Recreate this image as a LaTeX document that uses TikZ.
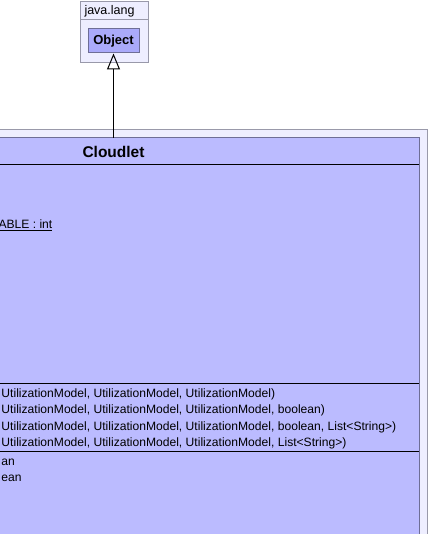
\documentclass[tikz,border=0pt]{standalone}
\usepackage{fontspec}
\setmainfont{Liberation Sans}
\usetikzlibrary{arrows.meta,positioning}

\definecolor{pkgfill}{RGB}{238,238,255}
\definecolor{pkgline}{RGB}{153,153,170}
\definecolor{clsfill}{RGB}{187,187,255}
\definecolor{clsline}{RGB}{110,110,150}
\definecolor{objfill}{RGB}{170,170,250}

\begin{document}
\begin{tikzpicture}[x=1pt,y=-1pt,line width=1pt,
    pkg/.style={draw=pkgline,fill=pkgfill},
    cls/.style={draw=clsline,fill=clsfill},
    member/.style={anchor=west,inner sep=0pt,font=\fontsize{12.1}{14}\selectfont},
    inherit/.style={-{Triangle[open,length=16pt,width=13pt]},fill=white}]

  \useasboundingbox (0,0) rectangle (430,534);

  % java.lang package with Object
  \draw[pkg] (80,2) rectangle (148,62.5);
  \draw[pkgline] (80,20) -- (148,20);
  \node[member,font=\fontsize{12.5}{14}\selectfont] (javalang) at (84,11) {java.lang};
  \node[draw=clsline,fill=objfill,minimum width=51pt,minimum height=24pt,
        inner sep=0pt,font=\bfseries\fontsize{13}{15}\selectfont] (object) at (113.5,41) {Object};

  % enclosing package and Cloudlet class
  \draw[pkg] (-5,129.5) rectangle (427,545);
  \draw[cls] (-5,138) rectangle (419,545);
  \draw (-5,165) -- (419,165);
  \draw (-5,383) -- (419,383);
  \draw (-5,451) -- (419,451);
  \node[font=\bfseries\fontsize{15.5}{18}\selectfont] (cloudlet) at (113.5,152) {Cloudlet};
  \coordinate (clstop) at (113.5,138);

  \draw[inherit] (clstop) -- (object.south);

  % attributes
  \node[member] (attr) at (-2,225.5) {\underline{ABLE : int}};

  % constructors
  \node[member] (c1) at (1,394) {UtilizationModel, UtilizationModel, UtilizationModel)};
  \node[member] (c2) at (1,410.5) {UtilizationModel, UtilizationModel, UtilizationModel, boolean)};
  \node[member] (c3) at (1,427) {UtilizationModel, UtilizationModel, UtilizationModel, boolean, List<String>)};
  \node[member] (c4) at (1,443.5) {UtilizationModel, UtilizationModel, UtilizationModel, List<String>)};

  % methods
  \node[member] (m1) at (1,462) {an};
  \node[member] (m2) at (1,478.5) {ean};
\end{tikzpicture}
\end{document}
